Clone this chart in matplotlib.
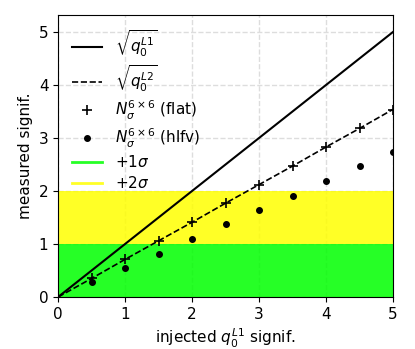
import matplotlib.pyplot as plt
from matplotlib.lines import Line2D

# injected significance (x) and measured values
injected = [0, 0.5, 1, 1.5, 2, 2.5, 3, 3.5, 4, 4.5, 5]
sqrt_q0_L1 = [0, 0.5, 1, 1.5, 2, 2.5, 3, 3.5, 4, 4.5, 5]
sqrt_q0_L2 = [0, 0.35, 0.71, 1.06, 1.41, 1.77, 2.12, 2.47, 2.83, 3.18, 3.54]

points_x = [0.5, 1, 1.5, 2, 2.5, 3, 3.5, 4, 4.5, 5]
n_sigma_flat = [0.35, 0.71, 1.06, 1.41, 1.77, 2.12, 2.47, 2.83, 3.18, 3.53]
n_sigma_hlfv = [0.28, 0.55, 0.82, 1.09, 1.37, 1.64, 1.91, 2.19, 2.47, 2.74]

band_1sigma = (0, 1)
band_2sigma = (1, 2)

fig = plt.figure(figsize=(4.15, 3.49), dpi=100)
ax = fig.add_axes([0.14, 0.149, 0.807, 0.808])

ax.grid(True, ls='--', color='#dddddd', lw=1)
ax.set_axisbelow(True)

ax.axhspan(*band_1sigma, color='lime', alpha=0.85, lw=0)
ax.axhspan(*band_2sigma, color='yellow', alpha=0.85, lw=0)

ax.plot(injected, sqrt_q0_L1, 'k-', lw=1.5)
ax.plot(injected, sqrt_q0_L2, 'k--', lw=1.2)
ax.plot(points_x, n_sigma_flat, 'k+', ms=7, mew=1.2)
ax.plot(points_x, n_sigma_hlfv, 'ko', ms=4)

ax.set_xlim(0, 5)
ax.set_ylim(0, 5.32)
ax.set_xticks([0, 1, 2, 3, 4, 5])
ax.set_yticks([0, 1, 2, 3, 4, 5])
ax.tick_params(labelsize=11)
ax.set_xlabel(r'injected $q_0^{L1}$ signif.', fontsize=11)
ax.set_ylabel('measured signif.', fontsize=11)

handles = [
    Line2D([], [], color='k', lw=1.5),
    Line2D([], [], color='k', ls='--', lw=1.2),
    Line2D([], [], color='k', marker='+', ls='', ms=7, mew=1.2),
    Line2D([], [], color='k', marker='o', ls='', ms=4),
    Line2D([], [], color='lime', alpha=0.85, lw=2),
    Line2D([], [], color='yellow', alpha=0.85, lw=2),
]
labels = [r'$\sqrt{q_0^{L1}}$', r'$\sqrt{q_0^{L2}}$',
          r'$N_\sigma^{6\times6}$ (flat)', r'$N_\sigma^{6\times6}$ (hlfv)',
          r'$+1\sigma$', r'$+2\sigma$']
ax.legend(handles, labels, loc='upper left', frameon=False, fontsize=11,
          labelspacing=0.3)

fig.savefig('out.png', dpi=100)
